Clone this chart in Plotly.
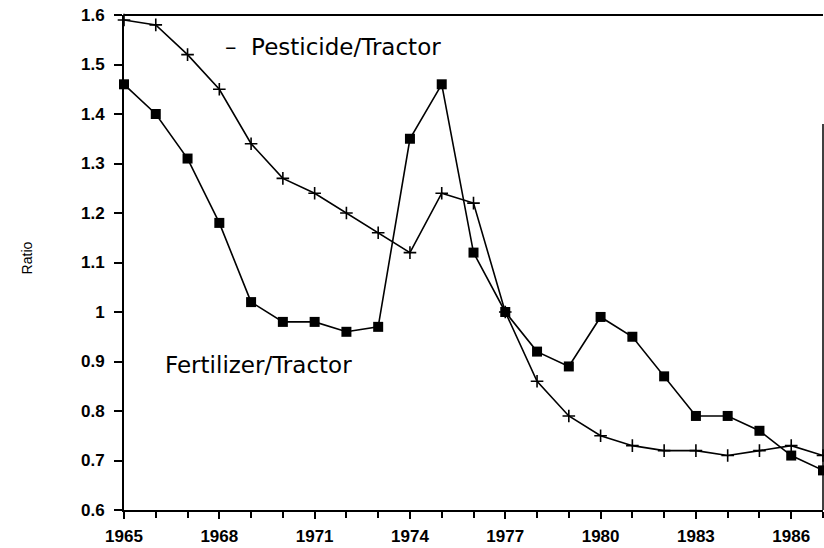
import plotly.graph_objects as go

years = list(range(1965, 1988))
pesticide_tractor = [1.59, 1.58, 1.52, 1.45, 1.34, 1.27, 1.24, 1.20, 1.16, 1.12, 1.24, 1.22,
                     1.00, 0.86, 0.79, 0.75, 0.73, 0.72, 0.72, 0.71, 0.72, 0.73, 0.71]
fertilizer_tractor = [1.46, 1.40, 1.31, 1.18, 1.02, 0.98, 0.98, 0.96, 0.97, 1.35, 1.46, 1.12,
                      1.00, 0.92, 0.89, 0.99, 0.95, 0.87, 0.79, 0.79, 0.76, 0.71, 0.68]
x_tick_vals = [1965, 1968, 1971, 1974, 1977, 1980, 1983, 1986]
y_tick_vals = [0.6, 0.7, 0.8, 0.9, 1.0, 1.1, 1.2, 1.3, 1.4, 1.5, 1.6]
y_tick_text = ["0.6", "0.7", "0.8", "0.9", "1", "1.1", "1.2", "1.3", "1.4", "1.5", "1.6"]

fig = go.Figure()
fig.add_trace(go.Scatter(
    x=years, y=pesticide_tractor, mode="lines+markers", name="Pesticide/Tractor",
    line=dict(color="black", width=1.6),
    marker=dict(symbol="cross-thin", size=9, line=dict(color="black", width=1.6)),
    cliponaxis=False,
))
fig.add_trace(go.Scatter(
    x=years, y=fertilizer_tractor, mode="lines+markers", name="Fertilizer/Tractor",
    line=dict(color="black", width=1.6),
    marker=dict(symbol="square", size=10, color="black"),
    cliponaxis=False,
))

tickfont = dict(family="Liberation Sans", size=17, color="black", weight="bold")
fig.update_layout(
    width=824, height=548,
    margin=dict(l=124, r=1, t=15, b=38),
    paper_bgcolor="white", plot_bgcolor="white",
    showlegend=False,
    xaxis=dict(
        range=[1965, 1987], tickvals=x_tick_vals, ticktext=[str(v) for v in x_tick_vals],
        ticks="outside", ticklen=7, tickwidth=1.5, tickcolor="black",
        minor=dict(dtick=1, tick0=1965, ticks="outside", ticklen=6, tickwidth=1.5, tickcolor="black"),
        showline=True, linecolor="black", linewidth=2, showgrid=False, zeroline=False,
        tickfont=tickfont, ticklabelstandoff=3,
    ),
    yaxis=dict(
        range=[0.6, 1.6], tickvals=y_tick_vals, ticktext=y_tick_text,
        ticks="outside", ticklen=8, tickwidth=1.5, tickcolor="black",
        showline=True, linecolor="black", linewidth=2, showgrid=False, zeroline=False,
        tickfont=tickfont, ticklabelstandoff=6,
    ),
    shapes=[
        dict(type="line", xref="paper", yref="paper", x0=0, x1=1, y0=1, y1=1,
             line=dict(color="black", width=2)),
        dict(type="line", xref="paper", yref="y", x0=1, x1=1, y0=0.6, y1=1.38,
             line=dict(color="black", width=1.5)),
    ],
    annotations=[
        dict(x=1968.1, y=1.535, xref="x", yref="y", text="–\u00a0\u00a0Pesticide/Tractor",
             showarrow=False, xanchor="left", yanchor="middle",
             font=dict(family="DejaVu Sans", size=23, color="black")),
        dict(x=1966.23, y=0.892, xref="x", yref="y", text="Fertilizer/Tractor",
             showarrow=False, xanchor="left", yanchor="middle",
             font=dict(family="DejaVu Sans", size=23, color="black")),
        dict(x=-0.139, y=0.51, xref="paper", yref="paper", text="Ratio", textangle=-90,
             showarrow=False, xanchor="center", yanchor="middle",
             font=dict(family="Liberation Sans", size=14, color="black")),
    ],
)

fig.write_html("out.html", config={"displayModeBar": False},
               post_script="document.body.style.margin='0';")
